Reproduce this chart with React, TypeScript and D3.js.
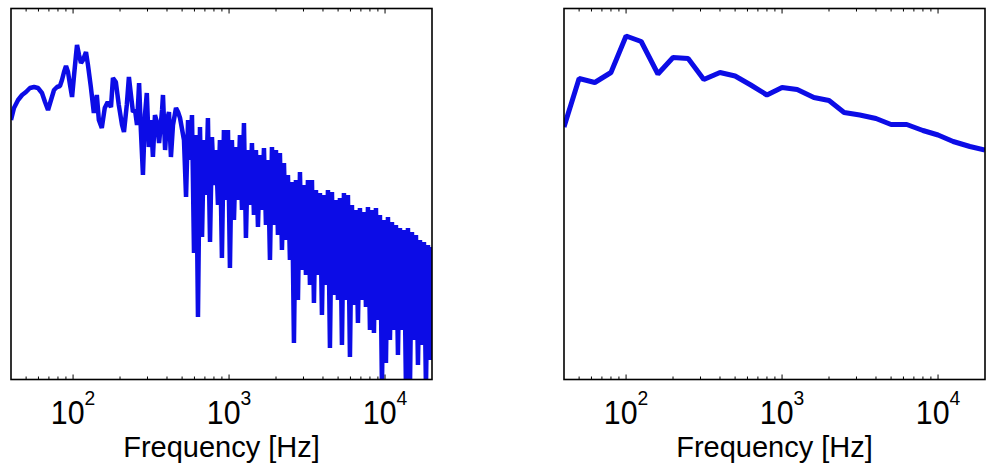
import React from 'react';
import * as d3 from 'd3';

// ---- data ----
const freqDomain: [number, number] = [40, 20000];
const levelDomain: [number, number] = [-74.2, 0];

const leftFreqHz = [
  40, 41.8, 44.4, 47.1, 49.9, 52.9, 56.2, 59.6, 63.2, 66.1,
  69.1, 72.2, 75.5, 78.9, 82.4, 84.9, 87.5, 90.1, 92.8, 95.6,
  98.5, 101.5, 104.4, 106, 109.2, 112.4, 115.8, 121, 124.6, 130,
  135.9, 142, 146.3, 152.8, 159.6, 166.8, 175, 180.2, 188, 196.4,
  206, 212, 221, 228, 235, 242, 249.6, 257, 265, 272,
  280.5, 289, 297, 306, 316, 325, 335, 345, 356, 372,
  377, 389, 400, 412, 424, 437, 457, 471, 485,
  514, 530, 546, 562, 578.5, 596, 614, 632, 651, 671,
  690, 711, 732, 755, 777, 800, 824, 849, 874, 900,
  927, 955, 984, 1013, 1043, 1075, 1107, 1140, 1174, 1210,
  1246, 1283, 1322, 1361, 1402, 1444, 1487, 1532, 1578, 1625,
  1674, 1724, 1776, 1829, 1884, 1940, 1998, 2058, 2119, 2183,
  2249, 2316, 2385, 2456, 2530, 2606, 2684, 2765, 2848, 2933,
  3020, 3111, 3204, 3301, 3400, 3501, 3606, 3714, 3825, 3940,
  4058, 4180, 4305, 4434, 4567, 4704, 4845, 4990, 5139, 5294,
  5451, 5615, 5783, 5956, 6135, 6318, 6508, 6703, 6904, 7111,
  7324, 7544, 7770, 8003, 8243, 8489, 8744, 9006, 9276, 9554,
  9840, 10135, 10439, 10751, 11074, 11405, 11747, 12099, 12464, 12837,
  13220, 13617, 14025, 14445, 14878, 15323, 15783, 16256, 16743, 17245,
  17760, 18293, 18842, 19405, 20000,
];

const leftLevelDb = [
  -22.3, -19.9, -18.3, -17.3, -16.7, -15.9, -15.7, -15.9, -16.9, -18.7,
  -20.3, -18.3, -16.3, -15.7, -15.5, -14.3, -12.7, -11.5, -12.7, -15.3,
  -17.7, -13.3, -9.3, -7.3, -9.3, -10.9, -10.3, -8.7, -11.3, -15.7,
  -20.9, -17.3, -22.3, -23.9, -19.9, -18.7, -19.7, -13.9, -14.7, -19.3,
  -23.3, -24.7, -19.3, -13.7, -17.3, -20.7, -20.3, -23.3, -14.9, -24.3,
  -33.3, -21.3, -16.9, -27.7, -22.3, -29.7, -21.3, -22.7, -26.9, -20.3,
  -17.3, -28.3, -22.3, -20.7, -29.7, -23.3, -19.9, -20.7, -21.9,
  -26.3, -37.7, -22.3, -30.3, -21.3, -48.9, -25.3, -61.7, -23.7, -45.7,
  -26.3, -37.3, -21.9, -46.7, -25.7, -35.3, -28.3, -39.3, -26.3, -49.9,
  -24.3, -38.3, -24.3, -51.9, -26.3, -42.3, -27.7, -38.3, -25.3, -40.3,
  -22.9, -45.9, -28.3, -39.3, -26.9, -41.3, -28.3, -43.7, -29.3, -40.3,
  -27.9, -43.3, -30.3, -50.3, -27.7, -43.3, -28.3, -45.3, -28.9, -48.3,
  -30.9, -46.3, -33.3, -50.3, -34.7, -66.9, -34.3, -58.3, -32.7, -52.3,
  -35.3, -53.3, -34.3, -55.3, -34.3, -58.9, -36.3, -53.3, -36.9, -61.3,
  -37.3, -55.3, -36.3, -67.9, -36.7, -57.3, -38.3, -58.3, -37.9, -67.3,
  -36.9, -58.3, -37.3, -69.7, -39.3, -59.3, -40.3, -62.9, -39.9, -58.3,
  -40.7, -59.7, -39.7, -64.3, -40.3, -64.9, -39.9, -62.3, -41.3, -76,
  -42.3, -70.9, -41.7, -66.3, -42.7, -64.3, -43.3, -69.3, -43.9, -64.3,
  -44.3, -76, -43.9, -76, -44.7, -66.3, -45.3, -71.3, -46.3, -67.3,
  -46.7, -76, -47.3, -70.3, -47.7,
];

const rightFreqHz = [
  40, 50, 63, 80, 100, 125, 160, 200, 250, 315, 400, 500, 630, 800,
  1000, 1250, 1600, 2000, 2500, 3150, 4000, 5000, 6300, 8000, 10000,
  12500, 16000, 20000,
];
const rightLevelDb = [
  -23.7, -14.0, -14.8, -12.8, -5.5, -6.6, -13.1, -9.8, -10.0, -14.2,
  -12.8, -13.5, -15.3, -17.3, -15.8, -16.2, -17.8, -18.4, -20.8, -21.3,
  -22.0, -23.2, -23.2, -24.4, -25.3, -26.6, -27.6, -28.3,
];

const majorTicks = [100, 1000, 10000];
const tickExponents = ['2', '3', '4'];
const xLabel = 'Frequency [Hz]';

const FONT = '"Liberation Sans", Arial, Helvetica, sans-serif';
const BLUE = '#0c0ce6';

type PanelProps = {
  id: string;
  left: number;
  freqs: number[];
  levels: number[];
  lineWidth: number;
};

function Panel({ id, left, freqs, levels, lineWidth }: PanelProps) {
  const width = 421;
  const top = 8.5;
  const bottom = 379.5;
  const x = d3.scaleLog().domain(freqDomain).range([left, left + width]);
  const y = d3.scaleLinear().domain(levelDomain).range([bottom, top]);
  const pts = freqs.map((f, i) => [f, levels[i]] as [number, number]);
  const path = d3
    .line<[number, number]>()
    .x((d) => x(d[0]))
    .y((d) => y(d[1]))(pts) as string;
  const allTicks = x.ticks().filter((t) => t > freqDomain[0] && t < freqDomain[1]);
  const isMajor = (t: number) => majorTicks.some((m) => Math.abs(m - t) < 1e-6);

  return (
    <g>
      <defs>
        <clipPath id={id}>
          <rect x={left} y={top} width={width} height={bottom - top} />
        </clipPath>
      </defs>
      <rect x={left} y={top} width={width} height={bottom - top} fill="#fff" />
      <path
        d={path}
        fill="none"
        stroke={BLUE}
        strokeWidth={lineWidth}
        strokeLinejoin="bevel"
        clipPath={`url(#${id})`}
      />
      {allTicks.map((t, i) => {
        const len = isMajor(t) ? 5 : 3;
        const xx = x(t);
        return (
          <g key={i} stroke="#000" strokeWidth={1}>
            <line x1={xx} x2={xx} y1={bottom} y2={bottom - len} />
            <line x1={xx} x2={xx} y1={top} y2={top + len} />
          </g>
        );
      })}
      <rect
        x={left}
        y={top}
        width={width}
        height={bottom - top}
        fill="none"
        stroke="#000"
        strokeWidth={1.6}
      />
      {majorTicks.map((t, i) => (
        <g key={'l' + i} transform={`translate(${x(t)},424) scale(0.92,1)`}>
          <text x={0} y={0} textAnchor="middle" fontFamily={FONT} fontSize={33} fill="#000">
            <tspan>10</tspan>
            <tspan dy={-19} fontSize={21}>
              {tickExponents[i]}
            </tspan>
          </text>
        </g>
      ))}
      <text
        x={left + width / 2}
        y={457}
        textAnchor="middle"
        fontFamily={FONT}
        fontSize={29}
        fill="#000"
      >
        {xLabel}
      </text>
    </g>
  );
}

export default function App() {
  return (
    <svg
      width={989}
      height={466}
      style={{ position: 'absolute', left: 0, top: 0, background: '#fff' }}
    >
      <rect x={0} y={0} width={989} height={466} fill="#fff" />
      <Panel id="clipLeft" left={11} freqs={leftFreqHz} levels={leftLevelDb} lineWidth={4.5} />
      <Panel id="clipRight" left={564} freqs={rightFreqHz} levels={rightLevelDb} lineWidth={5} />
    </svg>
  );
}
